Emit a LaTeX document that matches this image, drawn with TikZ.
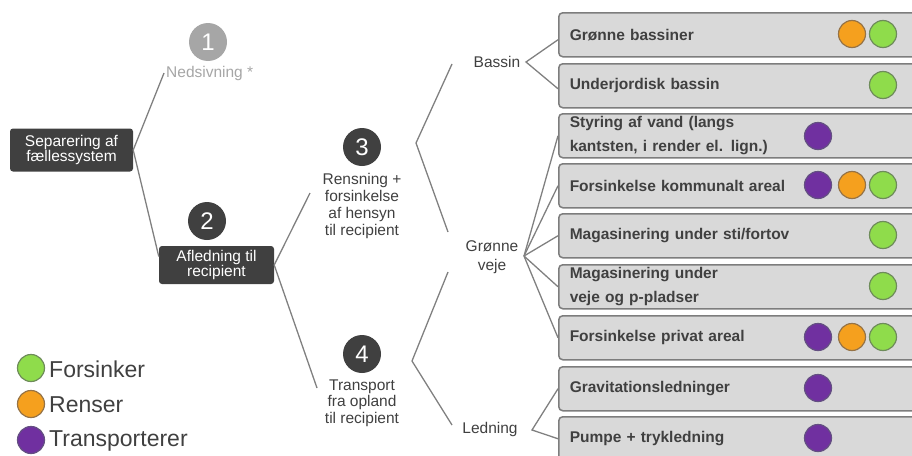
\documentclass[tikz,border=0pt]{standalone}
\usepackage{fontspec}
\setmainfont{Liberation Sans}
\usetikzlibrary{calc}
\definecolor{dk}{RGB}{64,64,64}
\definecolor{lncol}{RGB}{128,128,128}
\definecolor{lgray}{RGB}{166,166,166}
\definecolor{bxf}{RGB}{217,217,217}
\definecolor{bxb}{RGB}{125,125,125}
\definecolor{grn}{RGB}{143,220,75}
\definecolor{grnb}{RGB}{110,140,90}
\definecolor{org}{RGB}{245,160,30}
\definecolor{orgb}{RGB}{150,115,70}
\definecolor{prp}{RGB}{112,48,160}
\definecolor{prpb}{RGB}{100,80,130}
\newcommand\myfs{\fontsize{15.5}{16.7}\selectfont}
\begin{document}
\begin{tikzpicture}[x=1pt,y=-1pt,
  ln/.style={draw=lncol, line width=1.3pt},
  darkbox/.style={fill=dk, rounded corners=3pt, text=white, align=center,
    font=\fontsize{15.5}{15.5}\selectfont, inner sep=0pt},
  numc/.style={circle, fill=dk, text=white, minimum size=38pt, inner sep=0pt,
    font=\fontsize{24}{24}\selectfont},
  lbl/.style={text=dk, align=center, font=\myfs, inner sep=2pt},
  bx/.style={draw=bxb, fill=bxf, line width=1.5pt, rounded corners=4pt,
    anchor=north west, minimum height=44pt, text width=348pt, inner xsep=11pt,
    inner ysep=0pt, align=left, text=dk,
    font=\bfseries\fontsize{15.5}{24}\selectfont},
  dot/.style={circle, minimum size=27pt, inner sep=0pt, line width=1.2pt},
  gdot/.style={dot, fill=grn, draw=grnb},
  odot/.style={dot, fill=org, draw=orgb},
  pdot/.style={dot, fill=prp, draw=prpb},
  leg/.style={text=dk, anchor=west, font=\fontsize{23}{23}\selectfont, inner sep=0pt}
]
\useasboundingbox (0,0) rectangle (912,455);

% left column
\node[darkbox, minimum width=123pt, minimum height=43pt] (sep) at (71.5,150) {Separering af\\fællessystem};
\node[numc, fill=lgray] (n1) at (208,42) {1};
\node[lbl, text=lgray, anchor=west] (ned) at (164,73) {Nedsivning *};
\node[numc] (n2) at (207,221) {2};
\node[darkbox, minimum width=115pt, minimum height=38pt] (afl) at (216.5,265) {Afledning til\\recipient};

\draw[ln] (sep.east) -- (ned.west);
\draw[ln] (sep.east) -- ($(afl.north west)!0.28!(afl.south west)$);

% middle column
\node[numc] (n3) at (362,147) {3};
\node[lbl] (t3) at (362,206) {Rensning +\\forsinkelse\\af hensyn\\til recipient};
\node[numc] (n4) at (362,354) {4};
\node[lbl] (t4) at (362,403) {Transport\\fra opland\\til recipient};

\coordinate (a3) at (310,193);
\coordinate (a4) at (317,388);
\draw[ln] (afl.east) -- (a3);
\draw[ln] (afl.east) -- (a4);

% brackets
\coordinate (v3) at (416,143);
\coordinate (v3t) at (452,64);
\coordinate (v3b) at (448,232);
\coordinate (v4) at (412,361);
\coordinate (v4t) at (448,272);
\coordinate (v4b) at (452,425);
\draw[ln] (v3t) -- (v3) -- (v3b);
\draw[ln] (v4t) -- (v4) -- (v4b);

\node[lbl] (bas) at (497,62) {Bassin};
\node[lbl, font=\fontsize{15.5}{19}\selectfont] (gv) at (492,257) {Grønne\\veje};
\node[lbl] (led) at (490,429) {Ledning};

% boxes
\node[bx] (b1) at (558,12) {Grønne bassiner};
\node[bx] (b2) at (558,63) {Underjordisk bassin};
\node[bx] (b3) at (558,113) {Styring af vand (langs\\kantsten, i render el. lign.)};
\node[bx] (b4) at (558,163) {Forsinkelse kommunalt areal};
\node[bx] (b5) at (558,213) {Magasinering under sti/fortov};
\node[bx] (b6) at (558,264) {Magasinering under\\veje og p-pladser};
\node[bx] (b7) at (558,315) {Forsinkelse privat areal};
\node[bx] (b8) at (558,366) {Gravitationsledninger};
\node[bx] (b9) at (558,416) {Pumpe + trykledning};

% fans
\coordinate (vb) at (526,62);
\draw[ln] ([yshift=-5pt]b1.west) -- (vb) -- ([yshift=-3pt]b2.west);
\coordinate (vg) at (524,256);
\foreach \b in {b3,b4,b5,b6,b7} \draw[ln] (vg) -- (\b.west);
\coordinate (vl) at (532,430);
\draw[ln] (b8.west) -- (vl) -- (b9.west);

% dots
\node[odot] (d1o) at (852,34) {};
\node[gdot] (d1g) at (883,34) {};
\node[gdot] (d2g) at (883,85) {};
\node[pdot] (d3p) at (818,136) {};
\node[pdot] (d4p) at (818,185) {};
\node[odot] (d4o) at (852,185) {};
\node[gdot] (d4g) at (883,185) {};
\node[gdot] (d5g) at (883,235) {};
\node[gdot] (d6g) at (883,286) {};
\node[pdot] (d7p) at (818,337) {};
\node[odot] (d7o) at (852,337) {};
\node[gdot] (d7g) at (883,337) {};
\node[pdot] (d8p) at (818,388) {};
\node[pdot] (d9p) at (818,438) {};

% legend
\node[gdot] (lg) at (31,368) {};
\node[odot] (lo) at (31,404) {};
\node[pdot] (lp) at (31,440) {};
\node[leg] (lgt) at (49,369) {Forsinker};
\node[leg] (lot) at (49,405) {Renser};
\node[leg] (lpt) at (49,441) {Transporterer};
\end{tikzpicture}
\end{document}
